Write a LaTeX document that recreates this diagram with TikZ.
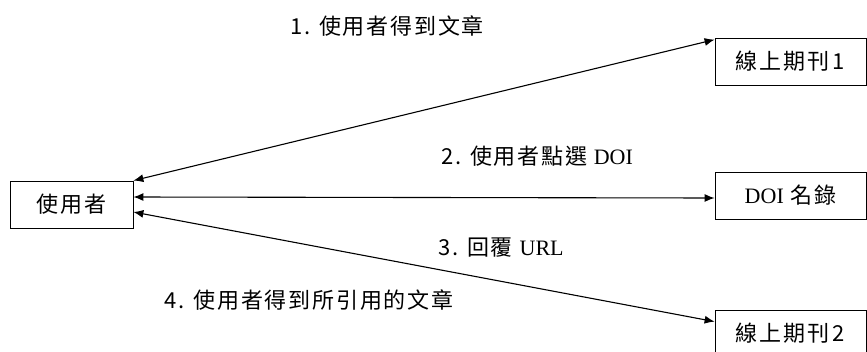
\documentclass[tikz,border=0pt]{standalone}
\usepackage{fontspec}
\setmainfont{Liberation Serif}
\newfontfamily\cjk[LetterSpace=8]{Noto Sans CJK TC}
\usetikzlibrary{arrows.meta}
\tikzset{
    every node/.style={
        font=\cjk\fontsize{22}{26}\selectfont},
    site/.style={
        draw,
        thick,
        minimum width=151pt,
        minimum height=47pt},
    reader/.style={
        draw,
        thick,
        minimum width=123pt,
        minimum height=47pt},
    step text/.style={inner sep=0pt},
    every edge/.style={
        draw,
        <->,>={Latex[length=10pt,width=8pt]},
        line width=1.1pt}}

\begin{document}
\begin{tikzpicture}[x=1pt,y=-1pt]
        \clip (0,0) rectangle (867,351);
        \node[reader] (user) at (71.5,204.5) {使用者};
        \node[site] (j1) at (790.5,61.5) {線上期刊\,1};
        \node[site] (doi) at (790.5,195.5) {{\rmfamily DOI} 名錄};
        \node[site] (j2) at (790.5,333.5) {線上期刊\,2};
        \node[step text] (s1) at (387,26) {1. 使用者得到文章};
        \node[step text] (s2) at (537,156) {2. 使用者點選 {\rmfamily DOI}};
        \node[step text, anchor=west] (s3) at (438,248) {3. 回覆 {\rmfamily URL}};
        \node[step text] (s4) at (309,300) {4. 使用者得到所引用的文章};
        \draw (user.north east) edge ([yshift=-2pt]j1.north west);
        \draw ([yshift=7.5pt]user.east) edge ([yshift=-2.5pt]doi.west);
        \draw ([yshift=-7.5pt]user.east) edge ([yshift=-12pt]j2.north west);
    \end{tikzpicture}
\end{document}
